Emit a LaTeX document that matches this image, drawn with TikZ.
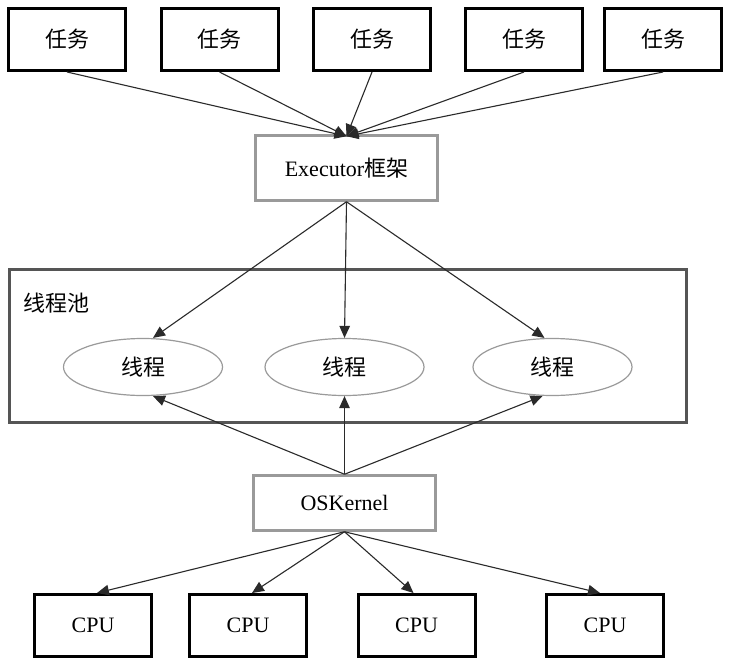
\documentclass[tikz,border=0pt]{standalone}
\usepackage{fontspec}
\setmainfont{Liberation Serif}
\newfontfamily\cjk{Noto Sans CJK SC}
\usetikzlibrary{arrows.meta,shapes.geometric}
\definecolor{boxgray}{HTML}{9A9A9A}
\definecolor{poolgray}{HTML}{555555}
\definecolor{arrowc}{HTML}{2A2A2A}
\begin{document}
\begin{tikzpicture}[x=1pt,y=-1pt,
  txt/.style={font=\fontsize{22}{26}\selectfont},
  taskbox/.style={txt,draw=black,line width=3pt,minimum width=117pt,minimum height=62pt,inner sep=0pt},
  graybox/.style={txt,draw=boxgray,line width=2.5pt,minimum width=182pt,inner sep=0pt},
  thread/.style={txt,ellipse,draw=boxgray,line width=1.2pt,minimum width=159pt,minimum height=57pt,inner sep=0pt},
  conn/.style={draw=arrowc,line width=1.1pt,-{Triangle[length=12pt,width=10.5pt]}}
]
\useasboundingbox (0,0) rectangle (733,669);
\fill[white] (0,0) rectangle (733,669);
% tasks
\node[taskbox] (t1) at (67,39.5) {\cjk 任务};
\node[taskbox] (t2) at (219.5,39.5) {\cjk 任务};
\node[taskbox] (t3) at (372,39.5) {\cjk 任务};
\node[taskbox] (t4) at (524,39.5) {\cjk 任务};
\node[taskbox] (t5) at (663,39.5) {\cjk 任务};
% executor
\node[graybox,minimum height=65pt] (ex) at (346.5,168) {Executor{\cjk 框架}};
% pool
\draw[draw=poolgray,line width=3pt] (9.5,269.5) rectangle (686.5,422.5);
\node[txt,anchor=west] (pool) at (20,303) {\cjk 线程池};
% threads
\node[thread] (e1) at (143,367) {\cjk 线程};
\node[thread] (e2) at (344.5,367) {\cjk 线程};
\node[thread] (e3) at (552.5,367) {\cjk 线程};
% kernel
\node[graybox,minimum height=55pt] (os) at (344.5,503) {OSKernel};
% cpus
\node[taskbox] (c1) at (93,625.5) {CPU};
\node[taskbox] (c2) at (248,625.5) {CPU};
\node[taskbox] (c3) at (416.5,625.5) {CPU};
\node[taskbox] (c4) at (605,625.5) {CPU};
% connectors
\foreach \t in {t1,t2,t3,t4,t5}{
  \draw[conn] (\t.south) -- ([yshift=-2pt]ex.north);
}
\draw[conn] (ex.south) -- ([xshift=10pt]e1.north);
\draw[conn] (ex.south) -- (e2.north);
\draw[conn] (ex.south) -- ([xshift=-8pt]e3.north);
\draw[conn] (os.north) -- ([xshift=10pt]e1.south);
\draw[conn] (os.north) -- (e2.south);
\draw[conn] (os.north) -- ([xshift=-10pt]e3.south);
\draw[conn] (os.south) -- ([xshift=4pt]c1.north);
\draw[conn] (os.south) -- ([xshift=4pt]c2.north);
\draw[conn] (os.south) -- ([xshift=-3pt]c3.north);
\draw[conn] (os.south) -- ([xshift=-5pt]c4.north);
\end{tikzpicture}
\end{document}
